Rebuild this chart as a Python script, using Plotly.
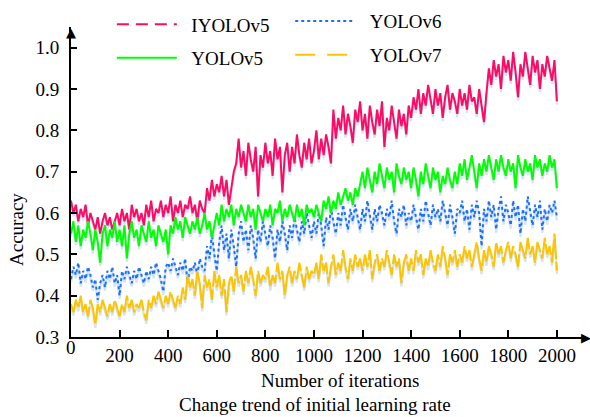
import plotly.graph_objects as go

iterations = list(range(0, 2001, 10))

iyolov5 = [
0.63,0.60,0.62,0.58,0.61,0.59,0.62,0.57,0.60,0.58,0.56,0.59,0.55,0.58,0.60,0.57,0.59,0.56,0.58,0.60,
0.57,0.61,0.58,0.60,0.56,0.62,0.59,0.61,0.58,0.60,0.57,0.62,0.59,0.63,0.58,0.61,0.60,0.63,0.59,0.62,
0.60,0.64,0.58,0.62,0.60,0.63,0.59,0.62,0.61,0.64,0.60,0.62,0.58,0.63,0.61,0.60,0.66,0.63,0.68,0.64,
0.67,0.65,0.69,0.64,0.68,0.62,0.66,0.70,0.72,0.78,0.71,0.75,0.69,0.77,0.73,0.70,0.76,0.64,0.74,0.71,
0.77,0.72,0.75,0.69,0.78,0.73,0.76,0.65,0.74,0.77,0.70,0.76,0.72,0.79,0.74,0.71,0.77,0.73,0.78,0.72,
0.75,0.80,0.73,0.78,0.74,0.79,0.76,0.72,0.85,0.78,0.83,0.80,0.86,0.79,0.84,0.81,0.77,0.85,0.82,0.87,
0.80,0.84,0.78,0.86,0.82,0.79,0.85,0.81,0.87,0.76,0.83,0.80,0.86,0.82,0.78,0.85,0.81,0.84,0.79,0.86,
0.83,0.88,0.85,0.90,0.84,0.89,0.86,0.91,0.87,0.84,0.90,0.86,0.89,0.83,0.88,0.91,0.85,0.89,0.87,0.84,
0.90,0.86,0.89,0.85,0.91,0.87,0.88,0.84,0.90,0.86,0.82,0.89,0.95,0.91,0.97,0.93,0.96,0.90,0.98,0.94,
0.97,0.92,0.99,0.94,0.88,0.96,0.93,0.99,0.95,0.91,0.98,0.94,0.97,0.90,0.96,0.93,0.98,0.95,0.92,0.97,
0.87]

yolov5 = [
0.55,0.58,0.53,0.57,0.52,0.56,0.54,0.58,0.55,0.51,0.56,0.53,0.48,0.55,0.57,0.52,0.56,0.54,0.58,0.53,
0.56,0.52,0.57,0.49,0.55,0.58,0.54,0.56,0.52,0.57,0.55,0.53,0.58,0.54,0.56,0.52,0.57,0.55,0.53,0.56,
0.50,0.57,0.55,0.59,0.56,0.58,0.54,0.59,0.57,0.55,0.58,0.56,0.59,0.55,0.57,0.60,0.56,0.58,0.54,0.57,
0.60,0.57,0.62,0.58,0.61,0.59,0.62,0.57,0.61,0.59,0.62,0.60,0.58,0.62,0.59,0.61,0.56,0.62,0.60,0.58,
0.61,0.59,0.62,0.57,0.61,0.60,0.63,0.58,0.61,0.59,0.62,0.60,0.58,0.62,0.59,0.61,0.57,0.62,0.60,0.61,
0.59,0.62,0.60,0.58,0.63,0.61,0.64,0.60,0.63,0.61,0.65,0.62,0.64,0.66,0.63,0.65,0.62,0.66,0.64,0.67,
0.70,0.66,0.71,0.68,0.65,0.70,0.67,0.72,0.69,0.66,0.71,0.68,0.70,0.65,0.72,0.69,0.67,0.71,0.68,0.70,
0.66,0.71,0.68,0.64,0.70,0.67,0.72,0.69,0.66,0.71,0.68,0.70,0.65,0.69,0.67,0.71,0.68,0.66,0.70,0.67,
0.72,0.69,0.73,0.68,0.71,0.74,0.70,0.66,0.72,0.69,0.73,0.70,0.74,0.71,0.68,0.73,0.70,0.74,0.71,0.69,
0.73,0.70,0.72,0.66,0.74,0.71,0.69,0.73,0.70,0.72,0.68,0.74,0.71,0.73,0.69,0.72,0.70,0.74,0.71,0.73,
0.66]

yolov6 = [
0.44,0.47,0.45,0.48,0.43,0.46,0.44,0.47,0.45,0.42,0.44,0.39,0.43,0.45,0.42,0.46,0.44,0.47,0.43,0.45,
0.40,0.46,0.44,0.47,0.45,0.43,0.46,0.44,0.47,0.45,0.43,0.46,0.44,0.47,0.45,0.48,0.46,0.44,0.41,0.47,
0.48,0.46,0.49,0.47,0.45,0.48,0.46,0.49,0.43,0.47,0.46,0.48,0.45,0.49,0.47,0.46,0.52,0.49,0.55,0.50,
0.46,0.53,0.57,0.51,0.55,0.49,0.56,0.52,0.47,0.55,0.58,0.53,0.56,0.51,0.57,0.54,0.49,0.56,0.53,0.58,
0.55,0.52,0.57,0.54,0.49,0.56,0.53,0.58,0.55,0.51,0.57,0.54,0.59,0.56,0.53,0.58,0.55,0.60,0.57,0.54,
0.58,0.55,0.60,0.57,0.52,0.59,0.56,0.61,0.58,0.55,0.60,0.57,0.62,0.59,0.56,0.61,0.58,0.62,0.59,0.56,
0.61,0.58,0.63,0.59,0.56,0.61,0.58,0.62,0.60,0.57,0.61,0.59,0.63,0.58,0.55,0.61,0.59,0.62,0.57,0.60,
0.58,0.62,0.59,0.56,0.61,0.58,0.63,0.60,0.57,0.62,0.59,0.61,0.58,0.63,0.60,0.57,0.62,0.59,0.55,0.61,
0.60,0.63,0.58,0.61,0.56,0.62,0.59,0.63,0.60,0.52,0.61,0.58,0.63,0.59,0.62,0.56,0.61,0.64,0.58,0.62,
0.60,0.57,0.63,0.59,0.62,0.55,0.61,0.58,0.64,0.60,0.57,0.62,0.59,0.63,0.56,0.61,0.58,0.62,0.60,0.63,
0.59]

yolov7 = [
0.38,0.36,0.39,0.37,0.40,0.36,0.38,0.35,0.39,0.37,0.33,0.38,0.36,0.39,0.37,0.35,0.38,0.36,0.39,0.37,
0.35,0.38,0.36,0.40,0.37,0.39,0.36,0.38,0.37,0.39,0.36,0.34,0.39,0.37,0.40,0.38,0.41,0.39,0.37,0.40,
0.38,0.41,0.39,0.37,0.40,0.38,0.42,0.39,0.45,0.42,0.44,0.40,0.46,0.43,0.37,0.45,0.42,0.44,0.39,0.46,
0.42,0.45,0.40,0.44,0.36,0.43,0.45,0.41,0.47,0.43,0.45,0.41,0.46,0.43,0.47,0.44,0.40,0.46,0.43,0.45,
0.44,0.47,0.42,0.45,0.43,0.48,0.44,0.46,0.40,0.45,0.47,0.43,0.46,0.44,0.48,0.45,0.42,0.47,0.44,0.46,
0.45,0.48,0.44,0.50,0.46,0.48,0.43,0.47,0.50,0.45,0.48,0.46,0.51,0.47,0.44,0.49,0.46,0.50,0.47,0.49,
0.46,0.50,0.47,0.51,0.44,0.48,0.50,0.46,0.49,0.47,0.51,0.48,0.45,0.50,0.47,0.49,0.43,0.48,0.50,0.46,
0.49,0.46,0.51,0.48,0.50,0.45,0.49,0.47,0.51,0.48,0.46,0.50,0.47,0.52,0.49,0.45,0.50,0.48,0.51,0.47,
0.50,0.48,0.52,0.49,0.51,0.47,0.50,0.53,0.49,0.46,0.51,0.48,0.52,0.50,0.47,0.53,0.50,0.52,0.48,0.51,
0.53,0.49,0.52,0.50,0.47,0.53,0.51,0.49,0.54,0.50,0.52,0.48,0.53,0.51,0.49,0.54,0.50,0.52,0.48,0.55,
0.46]

x_ticks = list(range(0, 2001, 200))
x_tick_labels = [""] + [str(v) for v in x_ticks[1:]]
y_ticks = [0.3, 0.4, 0.5, 0.6, 0.7, 0.8, 0.9, 1.0]
y_tick_labels = ["0.3", "0.4", "0.5", "0.6", "0.7", "0.8", "0.9", "1.0"]

X_RANGE = [0, 2128]
Y_RANGE = [0.3, 1.05]

FONT = "Liberation Serif"
NB = "\u00a0\u00a0"

series = [
    ("IYOLOv5", iyolov5, "#ff0a64", "solid", "12px,7px", "legend"),
    ("YOLOv6", yolov6, "#1a6fff", "dot", "dot", "legend2"),
    ("YOLOv5", yolov5, "#00ff00", "solid", "solid", "legend"),
    ("YOLOv7", yolov7, "#ffc400", "28px,3px", "20px,12px", "legend2"),
]

fig = go.Figure()

# soft shadows under the lines
for name, vals, color, dash, ldash, lg in series:
    fig.add_trace(go.Scatter(
        x=iterations, y=[v - 0.008 for v in vals], mode="lines",
        line=dict(color="#d5e3f2", width=2.2), hoverinfo="skip", showlegend=False))

for name, vals, color, dash, ldash, lg in series:
    fig.add_trace(go.Scatter(
        x=iterations, y=vals, mode="lines", name=name,
        line=dict(color=color, width=2, dash=dash), showlegend=False))

for name, vals, color, dash, ldash, lg in series:
    fig.add_trace(go.Scatter(
        x=[None], y=[None], mode="lines", name=NB + name, legend=lg, legendgroup=name,
        line=dict(color=color, width=2, dash=ldash), showlegend=True))

tfont = dict(family=FONT, size=19, color="black")
afont = dict(family="DejaVu Sans", size=13, color="black")

fig.update_layout(
    width=590, height=417,
    margin=dict(l=71, r=2, t=22, b=80),
    paper_bgcolor="white", plot_bgcolor="white",
    font=dict(family=FONT, size=19, color="black"),
    legend=dict(x=0.079, y=1.07, xanchor="left", yanchor="top", orientation="v",
                itemwidth=60, tracegroupgap=6, bgcolor="rgba(0,0,0,0)", font=tfont),
    legend2=dict(x=0.424, y=1.08, xanchor="left", yanchor="top", orientation="v",
                 itemwidth=60, tracegroupgap=6, bgcolor="rgba(0,0,0,0)", font=tfont),
    xaxis=dict(range=X_RANGE, tickvals=x_ticks, ticktext=x_tick_labels,
               showgrid=False, zeroline=False, showline=True, linecolor="black",
               linewidth=2, ticks="inside", ticklen=7, tickwidth=1.5, tickcolor="black",
               tickfont=tfont),
    yaxis=dict(range=Y_RANGE, tickvals=y_ticks, ticktext=y_tick_labels,
               showgrid=False, zeroline=False, showline=True, linecolor="black",
               linewidth=2, ticks="inside", ticklen=6, tickwidth=1.5, tickcolor="black",
               ticklabelstandoff=6, tickfont=tfont),
    annotations=[
        dict(text="0", x=0.0, y=-0.035, xref="paper", yref="paper", showarrow=False,
             xanchor="center", yanchor="middle", font=tfont),
        dict(text="Number of iterations", x=0.52, y=-0.14, xref="paper", yref="paper",
             showarrow=False, xanchor="center", yanchor="middle", font=tfont),
        dict(text="Change trend of initial learning rate", x=0.472, y=-0.219,
             xref="paper", yref="paper", showarrow=False, xanchor="center", yanchor="middle",
             font=tfont),
        dict(text="Accuracy", x=-0.104, y=0.346, xref="paper", yref="paper",
             showarrow=False, textangle=-90, xanchor="center", yanchor="middle", font=tfont),
        # axis arrowheads
        dict(text="\u25b2", x=0.0, y=1.0, xref="paper", yref="paper", showarrow=False,
             xanchor="center", yanchor="middle", xshift=0, yshift=-5, font=afont),
        dict(text="\u25b6", x=1.0, y=0.0, xref="paper", yref="paper", showarrow=False,
             xanchor="center", yanchor="middle", xshift=-2, yshift=0, font=afont),
    ],
)

fig.write_html("out.html")
